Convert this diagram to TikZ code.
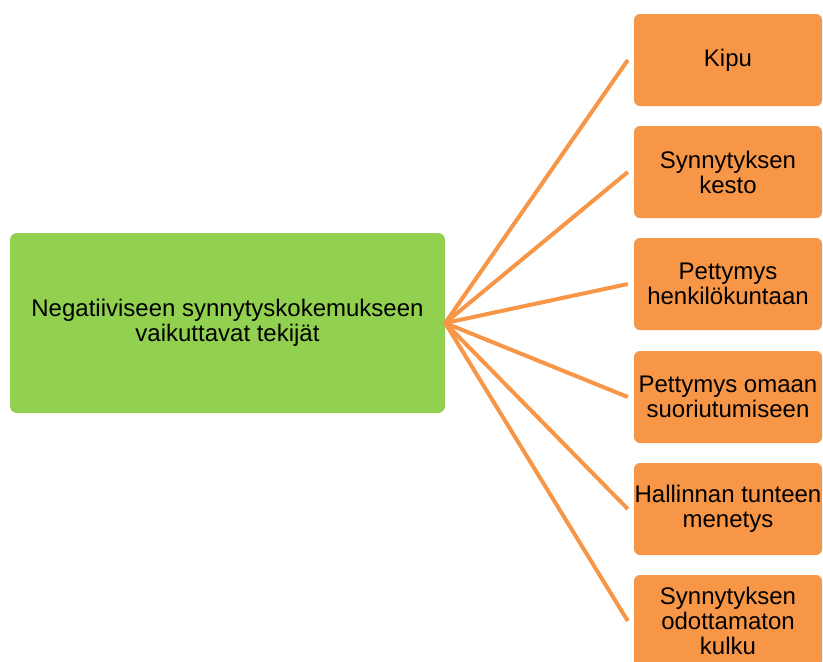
\documentclass[tikz,border=0pt]{standalone}
\usepackage{fontspec}
\setmainfont{Liberation Sans}
\definecolor{boxorange}{HTML}{F79646}
\definecolor{boxgreen}{HTML}{92D050}
\begin{document}
\begin{tikzpicture}[x=1pt,y=-1pt,
  rootbox/.style={fill=boxgreen, draw=none, rounded corners=7pt,
    minimum width=435pt, minimum height=180pt, inner sep=0pt,
    align=center, font=\fontsize{24}{25}\selectfont},
  leafbox/.style={fill=boxorange, draw=none, rounded corners=6pt,
    minimum width=188pt, minimum height=92pt, inner sep=0pt,
    align=center, font=\fontsize{24}{25}\selectfont},
  link/.style={draw=boxorange, line width=4pt}]
\useasboundingbox (0,0) rectangle (823,662);
\clip (0,0) rectangle (823,662);
\fill[white] (0,0) rectangle (823,662);

\node[rootbox] (root) at (227.5,323) {Negatiiviseen synnytyskokemukseen\\vaikuttavat tekijät};

\node[leafbox] (l1) at (728,60)  {Kipu};
\node[leafbox] (l2) at (728,172) {Synnytyksen\\kesto};
\node[leafbox] (l3) at (728,284) {Pettymys\\henkilökuntaan};
\node[leafbox] (l4) at (728,397) {Pettymys omaan\\suoriutumiseen};
\node[leafbox] (l5) at (728,509) {Hallinnan tunteen\\menetys};
\node[leafbox] (l6) at (728,621) {Synnytyksen\\odottamaton\\kulku};

\coordinate (hub) at (root.east);
\foreach \i in {1,...,6} {
  \coordinate (e\i) at ([xshift=-6pt]l\i.west);
  \draw[link] (hub) -- (e\i);
}
\end{tikzpicture}
\end{document}
